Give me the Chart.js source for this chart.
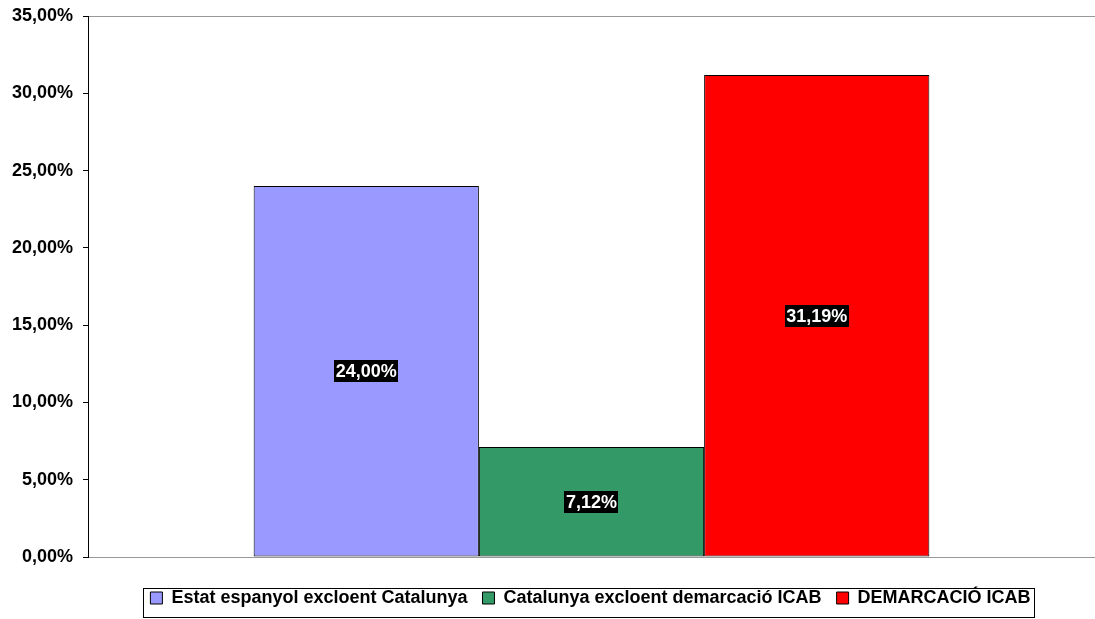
<!DOCTYPE html>
<html><head><meta charset="utf-8">
<script src="https://cdn.jsdelivr.net/npm/chart.js@4/dist/chart.umd.min.js"></script>
<style>html,body{margin:0;padding:0;background:#fff}#wrap{width:1095px;height:619px}</style>
</head><body><div id="wrap"><canvas id="c" width="1095" height="619"></canvas></div>
<script>
const categories = [''];
const seriesNames = ['Estat espanyol excloent Catalunya', 'Catalunya excloent demarcació ICAB', 'DEMARCACIÓ ICAB'];
const seriesValues = [[24.00], [7.12], [31.19]];
const seriesColors = ['#9999FF', '#339966', '#FF0000'];
const yTicks = [0, 5, 10, 15, 20, 25, 30, 35];

const fmt = v => v.toFixed(2).replace('.', ',') + '%';
const FONT = '"Liberation Sans", Arial, sans-serif';

const labelPlugin = {
  id: 'labels',
  afterDatasetsDraw(chart) {
    const ctx = chart.ctx;
    ctx.save();
    ctx.font = 'bold 18px ' + FONT;
    ctx.textAlign = 'center';
    ctx.textBaseline = 'middle';
    chart.data.datasets.forEach((ds, i) => {
      const meta = chart.getDatasetMeta(i);
      meta.data.forEach((bar, j) => {
        const txt = fmt(ds.data[j]);
        const cx = bar.x, cy = (bar.y + bar.base) / 2;
        const w = ctx.measureText(txt).width + 3;
        ctx.fillStyle = '#000';
        ctx.fillRect(Math.round(cx - w / 2), Math.round(cy - 11), Math.round(w), 22);
        ctx.fillStyle = '#fff';
        ctx.fillText(txt, cx, cy + 1);
      });
    });
    ctx.restore();
  }
};

const legendShift = {
  id: 'legendShift',
  afterLayout(chart) {
    const lg = chart.legend;
    if (!lg) return;
    const dx = 43, dy = -2;
    lg.left += dx; lg.right += dx; lg.top += dy; lg.bottom += dy;
    (lg.legendHitBoxes || []).forEach(h => { h.left += dx; h.top += dy; });
  }
};

const framePlugin = {
  id: 'frame',
  afterDraw(chart) {
    const ctx = chart.ctx;
    const lg = chart.legend;
    if (lg && lg.legendHitBoxes && lg.legendHitBoxes.length) {
      const hb = lg.legendHitBoxes;
      const l = hb[0].left - 7;
      const last = hb[hb.length - 1];
      const r = last.left + last.width + 4;
      const cy = hb[0].top + hb[0].height / 2;
      const t = cy - 8;
      const b = cy + 21;
      ctx.save();
      ctx.strokeStyle = '#000';
      ctx.lineWidth = 1;
      ctx.strokeRect(Math.round(l) + 0.5, Math.round(t) + 0.5, Math.round(r - l), Math.round(b - t));
      ctx.restore();
    }
  }
};

new Chart(document.getElementById('c'), {
  type: 'bar',
  data: {
    labels: categories,
    datasets: seriesNames.map((n, i) => ({
      label: n,
      data: seriesValues[i],
      backgroundColor: seriesColors[i],
      borderColor: '#000',
      borderWidth: 1,
      borderSkipped: false,
      barPercentage: 1,
      categoryPercentage: 0.671
    }))
  },
  options: {
    responsive: false,
    animation: false,
    devicePixelRatio: 1,
    layout: { padding: { top: 0, right: 0, left: 0, bottom: 0 } },
    plugins: {
      tooltip: { enabled: false },
      legend: {
        position: 'bottom',
        labels: {
          font: { family: FONT, size: 18, weight: 'bold' },
          color: '#000',
          boxWidth: 12,
          boxHeight: 12,
          padding: 15
        }
      }
    },
    scales: {
      x: {
        ticks: { display: false },
        grid: { display: false },
        border: { color: '#999', width: 1 },
        afterFit: s => { s.height = 19; }
      },
      y: {
        min: 0, max: 35,
        afterBuildTicks: s => { s.ticks = yTicks.map(v => ({ value: v })); },
        ticks: {
          callback: v => fmt(v),
          font: { family: FONT, size: 18, weight: 'bold', lineHeight: 1 },
          color: '#000',
          padding: 10
        },
        grid: {
          drawOnChartArea: true,
          color: c => (c.tick && c.tick.value === 35) ? '#999' : 'rgba(0,0,0,0)',
          tickColor: '#000',
          tickLength: 5
        },
        border: { color: '#000', width: 1 },
        afterFit: s => { s.width = 88; s.paddingTop = 16; }
      }
    }
  },
  plugins: [labelPlugin, legendShift, framePlugin]
});
</script></body></html>
